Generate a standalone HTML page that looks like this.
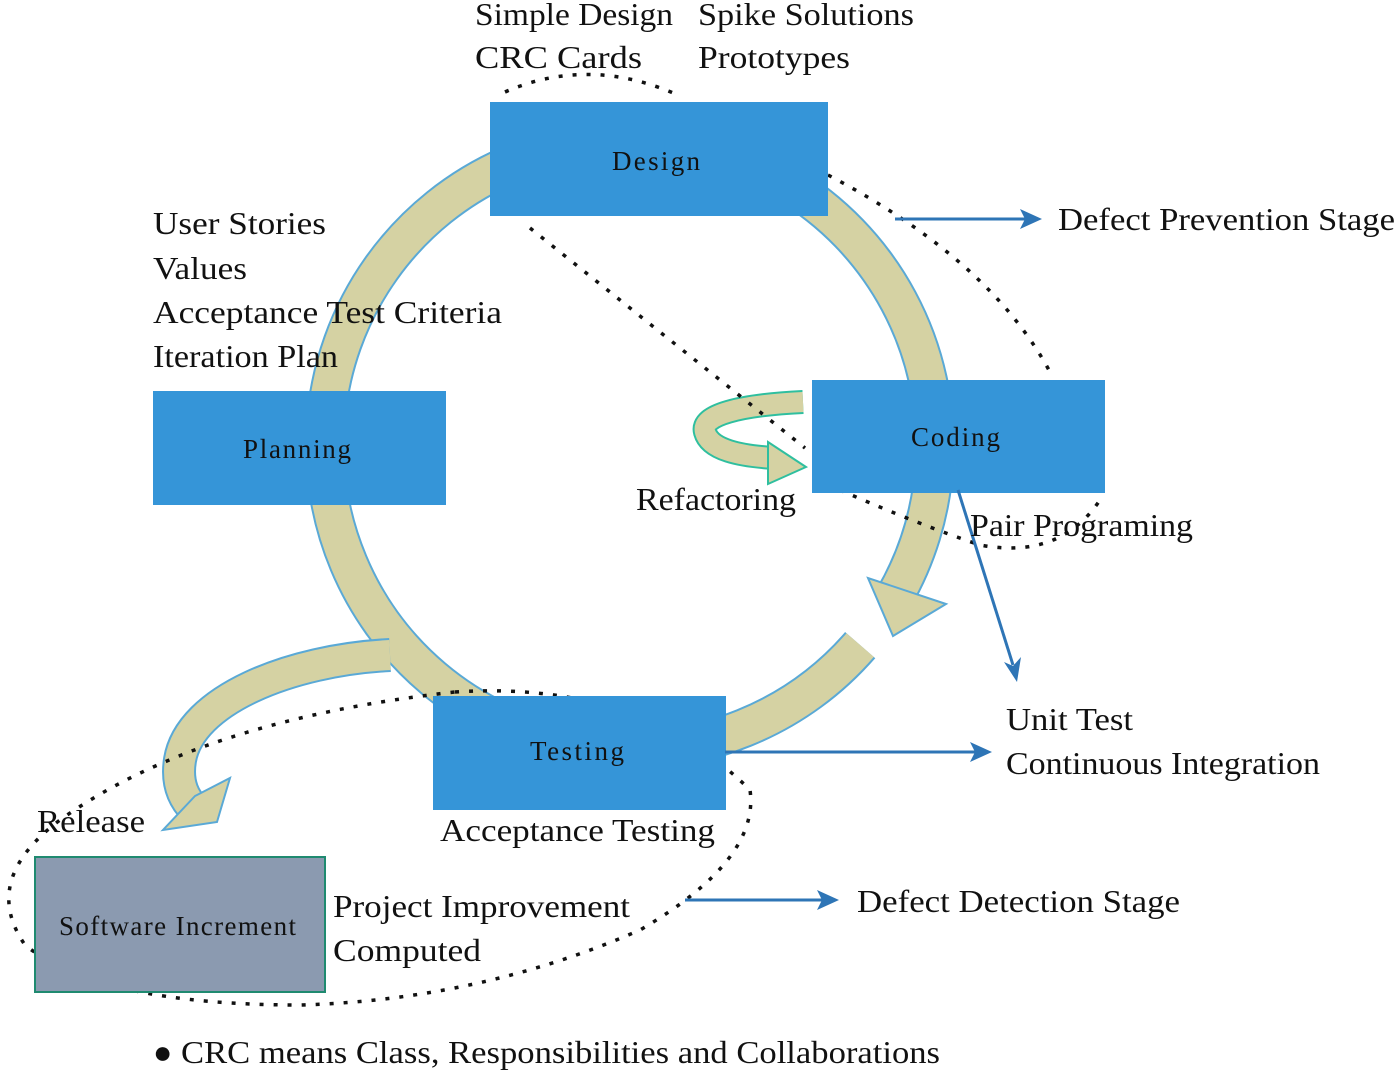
<!DOCTYPE html>
<html><head><meta charset="utf-8"><style>
html,body{margin:0;padding:0;background:#fff;}
svg{display:block;}
text{font-family:"Liberation Serif",serif;fill:#111;}
</style></head><body>
<svg width="1396" height="1071" viewBox="0 0 1396 1071" xmlns="http://www.w3.org/2000/svg">
<g fill="none">
<path d="M 860.2 645.1 A 305 305 0 1 1 894.1 597.5" stroke="#5aa9d6" stroke-width="40"/>
<path d="M 860.2 645.1 A 305 305 0 1 1 894.1 597.5" stroke="#d5d2a3" stroke-width="36"/>
</g>
<polygon points="946,604 868,578 893,636" fill="#d5d2a3" stroke="#5aa9d6" stroke-width="2"/>
<path d="M 390 655 C 290 660 190 700 180 760 C 176 785 185 800 195 810" fill="none" stroke="#5aa9d6" stroke-width="34"/>
<path d="M 390 655 C 290 660 190 700 180 760 C 176 785 185 800 195 810" fill="none" stroke="#d5d2a3" stroke-width="30"/>
<polygon points="230,778 217,822 163,830 195,796" fill="#d5d2a3" stroke="#5aa9d6" stroke-width="2"/>
<path d="M 803 402 C 740 405 700 415 705 432 C 710 450 740 456 775 458" fill="none" stroke="#2fbf9f" stroke-width="24"/>
<path d="M 803 402 C 740 405 700 415 705 432 C 710 450 740 456 775 458" fill="none" stroke="#d5d2a3" stroke-width="20"/>
<polygon points="768,442 806,467 768,484" fill="#d5d2a3" stroke="#2fbf9f" stroke-width="2"/>
<g fill="none" stroke="#111" stroke-width="3.5" stroke-dasharray="4 10">
<path d="M 505 92 Q 590 55 680 96"/>
<path d="M 828 175 Q 990 260 1050 372"/>
<path d="M 530 228 L 805 448"/>
<path d="M 840 490 Q 920 525 980 545 Q 1060 560 1100 500"/>
<path d="M 455 692 Q 640 680 750 790 Q 760 860 640 930 Q 480 1000 300 1005 Q 100 1005 25 945 Q -20 880 60 820 Q 200 720 455 692"/>
</g>
<rect x="490" y="102" width="338" height="114" fill="#3595d8"/>
<rect x="153" y="391" width="293" height="114" fill="#3595d8"/>
<rect x="812" y="380" width="293" height="113" fill="#3595d8"/>
<rect x="433" y="696" width="293" height="114" fill="#3595d8"/>
<rect x="35" y="857" width="290" height="135" fill="#8b9ab0" stroke="#1f8a70" stroke-width="2"/>
<g stroke="#2e75b6" stroke-width="3" fill="#2e75b6">
<line x1="895" y1="219" x2="1025" y2="219"/><polygon points="1042,219 1020,209 1025,219 1020,229" stroke="none"/>
<line x1="958" y1="490" x2="1013" y2="665"/><polygon points="1017,682 1004,662 1013,666 1021,657" stroke="none"/>
<line x1="725" y1="752" x2="975" y2="752"/><polygon points="992,752 970,742 975,752 970,762" stroke="none"/>
<line x1="685" y1="900" x2="822" y2="900"/><polygon points="839,900 817,890 822,900 817,910" stroke="none"/>
</g>
<g font-size="27" lengthAdjust="spacingAndGlyphs">
<text x="612" y="170" textLength="88">Design</text>
<text x="243" y="458" textLength="108">Planning</text>
<text x="911" y="446" textLength="89">Coding</text>
<text x="530" y="760" textLength="94">Testing</text>
<text x="59" y="935" textLength="237">Software Increment</text>
</g>
<g font-size="32">
<text x="475" y="25" textLength="198" lengthAdjust="spacingAndGlyphs">Simple Design</text>
<text x="698" y="25" textLength="216" lengthAdjust="spacingAndGlyphs">Spike Solutions</text>
<text x="475" y="68" textLength="167" lengthAdjust="spacingAndGlyphs">CRC Cards</text>
<text x="698" y="68" textLength="152" lengthAdjust="spacingAndGlyphs">Prototypes</text>
<text x="153" y="234" textLength="173" lengthAdjust="spacingAndGlyphs">User Stories</text>
<text x="153" y="279" textLength="94" lengthAdjust="spacingAndGlyphs">Values</text>
<text x="153" y="323" textLength="349" lengthAdjust="spacingAndGlyphs">Acceptance Test Criteria</text>
<text x="153" y="367" textLength="185" lengthAdjust="spacingAndGlyphs">Iteration Plan</text>
<text x="1058" y="230" textLength="337" lengthAdjust="spacingAndGlyphs">Defect Prevention Stage</text>
<text x="636" y="510" textLength="160" lengthAdjust="spacingAndGlyphs">Refactoring</text>
<text x="970" y="536" textLength="223" lengthAdjust="spacingAndGlyphs">Pair Programing</text>
<text x="1006" y="730" textLength="127" lengthAdjust="spacingAndGlyphs">Unit Test</text>
<text x="1006" y="774" textLength="314" lengthAdjust="spacingAndGlyphs">Continuous Integration</text>
<text x="37" y="832" textLength="108" lengthAdjust="spacingAndGlyphs">Release</text>
<text x="440" y="841" textLength="275" lengthAdjust="spacingAndGlyphs">Acceptance Testing</text>
<text x="333" y="917" textLength="297" lengthAdjust="spacingAndGlyphs">Project Improvement</text>
<text x="333" y="961" textLength="148" lengthAdjust="spacingAndGlyphs">Computed</text>
<text x="857" y="912" textLength="323" lengthAdjust="spacingAndGlyphs">Defect Detection Stage</text>
<text x="153" y="1063">●</text>
<text x="181" y="1063" textLength="759" lengthAdjust="spacingAndGlyphs">CRC means Class, Responsibilities and Collaborations</text>
</g>
</svg>
</body></html>
